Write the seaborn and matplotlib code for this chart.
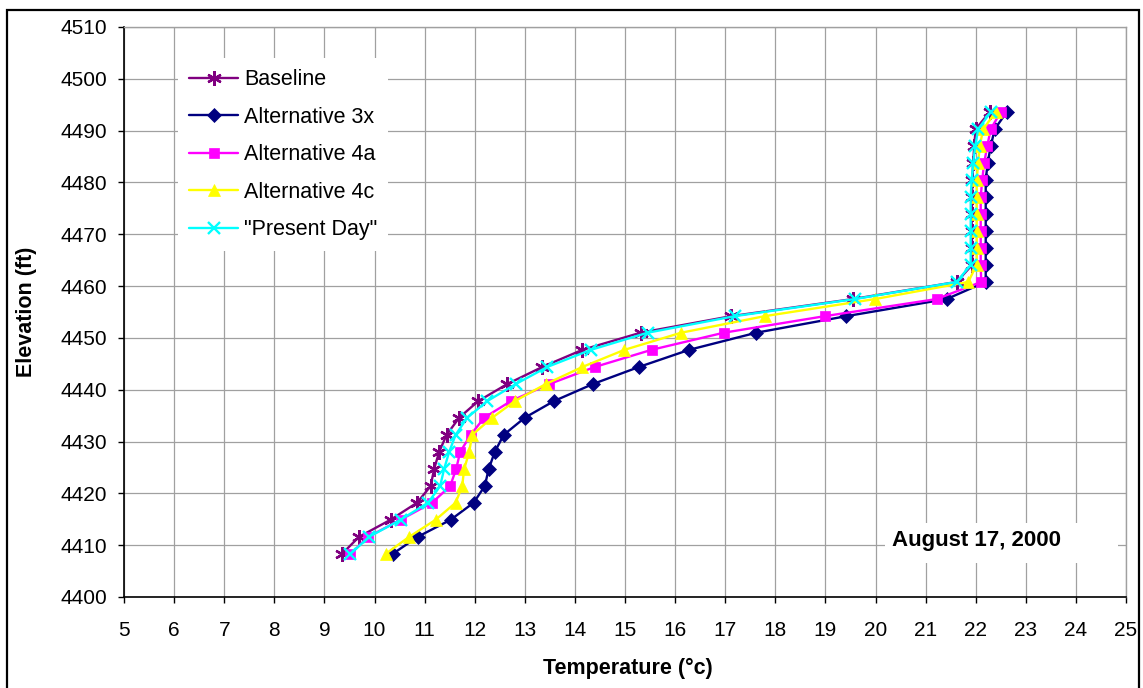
import pandas as pd
import seaborn as sns
import matplotlib.pyplot as plt
from matplotlib.patches import Rectangle

sns.set_style("white")
plt.rcParams['font.family'] = ['Liberation Sans', 'DejaVu Sans']
plt.rcParams['text.color'] = 'black'
plt.rcParams['axes.labelcolor'] = 'black'
plt.rcParams['xtick.color'] = 'black'
plt.rcParams['ytick.color'] = 'black'

# Elevation of each measuring point (ft)
elevation = [4408.3, 4411.6, 4414.9, 4418.2, 4421.4, 4424.7, 4428.0, 4431.3, 4434.6,
             4437.8, 4441.1, 4444.4, 4447.7, 4451.0, 4454.2, 4457.5, 4460.8, 4464.1,
             4467.4, 4470.6, 4473.9, 4477.2, 4480.5, 4483.8, 4487.0, 4490.3, 4493.6]

# Temperature (deg C) per scenario, bottom to top
baseline = [9.35, 9.69, 10.32, 10.85, 11.12, 11.19, 11.29, 11.44, 11.69, 12.07, 12.65,
            13.35, 14.15, 15.31, 17.12, 19.55, 21.62, 21.93, 21.93, 21.92, 21.92, 21.93,
            21.93, 21.95, 21.97, 22.0, 22.28]
alt_3x = [10.36, 10.86, 11.52, 11.98, 12.2, 12.28, 12.4, 12.58, 13.0, 13.58, 14.36,
          15.28, 16.28, 17.62, 19.42, 21.42, 22.2, 22.2, 22.2, 22.2, 22.2, 22.2,
          22.2, 22.24, 22.3, 22.38, 22.62]
alt_4a = [9.52, 9.87, 10.52, 11.15, 11.51, 11.63, 11.71, 11.92, 12.19, 12.72, 13.49,
          14.4, 15.53, 16.97, 18.99, 21.22, 22.11, 22.1, 22.1, 22.1, 22.1, 22.1,
          22.13, 22.17, 22.23, 22.3, 22.5]
alt_4c = [10.22, 10.69, 11.22, 11.62, 11.75, 11.79, 11.89, 11.95, 12.35, 12.8, 13.42,
          14.15, 14.99, 16.12, 17.79, 19.99, 21.85, 22.02, 22.02, 22.02, 22.02, 22.02,
          22.02, 22.05, 22.08, 22.15, 22.4]
present_day = [9.52, 9.89, 10.52, 11.07, 11.31, 11.39, 11.49, 11.62, 11.85, 12.25, 12.82,
               13.45, 14.32, 15.45, 17.19, 19.59, 21.62, 21.9, 21.9, 21.9, 21.9, 21.9,
               21.92, 21.95, 21.99, 22.05, 22.3]

series_names = ['Baseline', 'Alternative 3x', 'Alternative 4a', 'Alternative 4c', '"Present Day"']
series_values = [baseline, alt_3x, alt_4a, alt_4c, present_day]
colors = ['#800080', '#000080', '#FF00FF', '#FFFF00', '#00FFFF']
markers = [(6, 2, 0), 'D', 's', '^', 'x']
msizes = [10.5, 7, 7, 9, 9]

x_ticks = list(range(5, 26))
y_ticks = list(range(4400, 4511, 10))

fig = plt.figure(figsize=(11.43, 6.88), dpi=100)
ax = fig.add_axes([124 / 1143, 1 - 597 / 688, 1002 / 1143, 570 / 688])

for name, vals, c, m, ms in zip(series_names, series_values, colors, markers, msizes):
    df = pd.DataFrame({'temp': vals, 'elev': elevation})
    filled = m in ('D', 's', '^')
    sns.lineplot(data=df, x='temp', y='elev', sort=False, estimator=None, ax=ax,
                 color=c, linewidth=1.7, marker=m, markersize=ms,
                 markeredgecolor=c, markeredgewidth=0.5 if filled else 1.7,
                 label=name, zorder=3)

ax.set_xlim(5, 25)
ax.set_ylim(4400, 4510)
ax.set_xticks(x_ticks)
ax.set_yticks(y_ticks)
ax.grid(True, color='#a0a0a0', linewidth=0.9)
ax.set_axisbelow(True)
ax.tick_params(axis='both', direction='out', length=4.5, width=1, color='black',
               labelsize=15, left=True, bottom=True)
ax.tick_params(axis='x', pad=12.5)
ax.tick_params(axis='y', pad=7.5)

for side in ['left', 'bottom']:
    ax.spines[side].set_color('black')
    ax.spines[side].set_linewidth(1.2)
for side in ['top', 'right']:
    ax.spines[side].set_color('#a0a0a0')
    ax.spines[side].set_linewidth(1)

ax.set_xlabel('Temperature (°c)', fontsize=15.5, fontweight='bold', va='center')
ax.set_ylabel('Elevation (ft)', fontsize=15.5, fontweight='bold', va='center')
ax.xaxis.set_label_coords(0.503, -0.125)
ax.yaxis.set_label_coords(-0.097, 0.5)

# date label in its white box
ax.add_patch(Rectangle((0.7595, 0.0596), 0.2325, 0.0702, transform=ax.transAxes,
                       facecolor='white', edgecolor='none', zorder=1.5))
ax.text(0.766, 0.0988, 'August 17, 2000', transform=ax.transAxes, fontsize=16,
        fontweight='bold', ha='left', va='center', zorder=2)

leg = ax.legend(loc='upper left', bbox_to_anchor=(0.054, 0.945), fontsize=15.5,
                frameon=True, fancybox=False, framealpha=1, edgecolor='none',
                facecolor='white', borderaxespad=0, borderpad=0.5,
                handlelength=2.3, handletextpad=0.25, labelspacing=0.77)

# outer chart border
fig.patches.append(Rectangle((7 / 1143, -0.01), 1132 / 1143, 1 - 10 / 688 + 0.01,
                             transform=fig.transFigure, fill=False,
                             edgecolor='black', linewidth=1.6))

plt.savefig('out.png', dpi=100)
